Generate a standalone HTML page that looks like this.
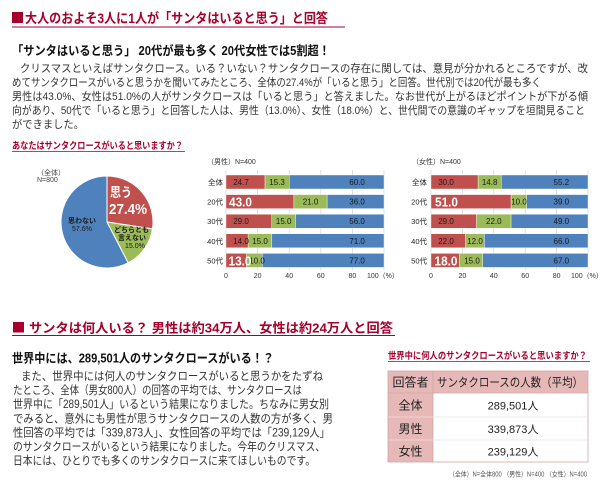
<!DOCTYPE html>
<html><head><meta charset="utf-8"><style>
html,body{margin:0;padding:0;background:#fff;}
svg{display:block;}
text{font-family:"Liberation Sans","Noto Sans CJK JP",sans-serif;}
.b{font-weight:bold;}
.red{fill:#A8002D;}
.body{font-size:11px;fill:#333;}
.body2{font-size:11.5px;fill:#333;}
.sm{font-size:7.5px;fill:#222;}
.bl{font-size:8px;fill:#1a1a1a;}
.big{font-size:13px;fill:#fff;font-weight:bold;}
</style></head><body>
<svg width="600" height="487" viewBox="0 0 600 487" xmlns="http://www.w3.org/2000/svg">
<rect width="600" height="487" fill="#fff"/>
<!-- Header 1 -->
<rect x="12" y="12" width="11" height="11" fill="#A8002D"/>
<text x="25" y="23" class="b red" font-size="13.5" textLength="303" lengthAdjust="spacingAndGlyphs">大人のおよそ3人に1人が「サンタはいると思う」と回答</text>
<line x1="12" y1="27" x2="345" y2="27" stroke="#A8002D" stroke-width="1"/>
<text x="12" y="55" class="b" font-size="12.5" fill="#111" textLength="318" lengthAdjust="spacingAndGlyphs">「サンタはいると思う」 20代が最も多く 20代女性では5割超！</text>
<text x="20" y="72" class="body" textLength="568" lengthAdjust="spacingAndGlyphs">クリスマスといえばサンタクロース。いる？いない？サンタクロースの存在に関しては、意見が分かれるところですが、改</text>
<text x="12" y="86" class="body" textLength="529" lengthAdjust="spacingAndGlyphs">めてサンタクロースがいると思うかを聞いてみたところ、全体の27.4%が「いると思う」と回答。世代別では20代が最も多く</text>
<text x="12" y="100" class="body" textLength="576" lengthAdjust="spacingAndGlyphs">男性は43.0%、女性は51.0%の人がサンタクロースは「いると思う」と答えました。なお世代が上がるほどポイントが下がる傾</text>
<text x="12" y="114" class="body" textLength="573" lengthAdjust="spacingAndGlyphs">向があり、50代で「いると思う」と回答した人は、男性（13.0%）、女性（18.0%）と、世代間での意識のギャップを垣間見ること</text>
<text x="12" y="128" class="body" textLength="72" lengthAdjust="spacingAndGlyphs">ができました。</text>

<!-- Chart title -->
<text x="12" y="149" class="b red" font-size="9.5" textLength="171" lengthAdjust="spacingAndGlyphs">あなたはサンタクロースがいると思いますか？</text>
<line x1="12" y1="151.5" x2="185" y2="151.5" stroke="#A8002D" stroke-width="0.8"/>

<!-- Pie -->
<path d="M107,222 L107,176 A46,46 0 0 1 152.48,228.91 Z" fill="#C0504D" stroke="#fff" stroke-width="1"/>
<path d="M107,222 L152.48,228.91 A46,46 0 0 1 128.15,262.85 Z" fill="#9BBB59" stroke="#fff" stroke-width="1"/>
<path d="M107,222 L128.15,262.85 A46,46 0 1 1 107,176 Z" fill="#4F81BD" stroke="#fff" stroke-width="1"/>
<text x="37" y="175" font-size="7" fill="#444">（全体）</text>
<text x="37" y="182" font-size="7" fill="#444">N=800</text>
<text x="110" y="197" class="b" font-size="13" fill="#fff" textLength="22" lengthAdjust="spacingAndGlyphs">思う</text>
<text x="109" y="214" class="b" font-size="15" fill="#fff" textLength="38" lengthAdjust="spacingAndGlyphs">27.4%</text>
<text x="68" y="223" class="b" font-size="7" fill="#1a1a1a">思わない</text>
<text x="72" y="231" font-size="7" fill="#1a1a1a">57.6%</text>
<text x="114" y="232" class="b" font-size="7" fill="#1a1a1a">どちらとも</text>
<text x="118" y="240" class="b" font-size="7" fill="#1a1a1a">言えない</text>
<text x="125" y="248" font-size="7" fill="#1a1a1a">15.0%</text>

<!-- Male bar chart -->
<text x="207" y="164" font-size="7" fill="#333">（男性）N=400</text>
<g stroke="#D9D9D9" stroke-width="0.8">
<line x1="226" y1="170" x2="226" y2="270"/><line x1="257.6" y1="170" x2="257.6" y2="270"/><line x1="289.2" y1="170" x2="289.2" y2="270"/><line x1="320.8" y1="170" x2="320.8" y2="270"/><line x1="352.4" y1="170" x2="352.4" y2="270"/><line x1="384" y1="170" x2="384" y2="270"/>
</g>
<g stroke="#fff" stroke-width="0.4">
<rect x="226" y="175" width="39.03" height="14" fill="#C0504D"/><rect x="265.03" y="175" width="24.17" height="14" fill="#9BBB59"/><rect x="289.2" y="175" width="94.8" height="14" fill="#4F81BD"/>
<rect x="226" y="194.6" width="67.94" height="14" fill="#C0504D"/><rect x="293.94" y="194.6" width="33.18" height="14" fill="#9BBB59"/><rect x="327.12" y="194.6" width="56.88" height="14" fill="#4F81BD"/>
<rect x="226" y="214.2" width="45.82" height="14" fill="#C0504D"/><rect x="271.82" y="214.2" width="23.7" height="14" fill="#9BBB59"/><rect x="295.52" y="214.2" width="88.48" height="14" fill="#4F81BD"/>
<rect x="226" y="233.8" width="22.12" height="14" fill="#C0504D"/><rect x="248.12" y="233.8" width="23.7" height="14" fill="#9BBB59"/><rect x="271.82" y="233.8" width="112.18" height="14" fill="#4F81BD"/>
<rect x="226" y="253.4" width="20.54" height="14" fill="#C0504D"/><rect x="246.54" y="253.4" width="15.8" height="14" fill="#9BBB59"/><rect x="262.34" y="253.4" width="121.66" height="14" fill="#4F81BD"/>
</g>
<g class="sm" text-anchor="end">
<text x="223" y="185">全体</text><text x="223" y="204.6">20代</text><text x="223" y="224.2">30代</text><text x="223" y="243.8">40代</text><text x="223" y="263.4">50代</text>
</g>
<g class="bl" text-anchor="middle">
<text x="241" y="185">24.7</text><text x="277.1" y="185">15.3</text><text x="357.1" y="185">60.0</text>
<text x="310.5" y="204.6">21.0</text><text x="357.1" y="204.6">36.0</text>
<text x="241" y="224.2">29.0</text><text x="283.7" y="224.2">15.0</text><text x="357.1" y="224.2">56.0</text>
<text x="241" y="243.8">14.0</text><text x="260" y="243.8">15.0</text><text x="357.1" y="243.8">71.0</text>
<text x="257" y="263.4">10.0</text><text x="357.1" y="263.4">77.0</text>
</g>
<text x="229" y="206.5" class="big" textLength="23" lengthAdjust="spacingAndGlyphs">43.0</text>
<text x="228.5" y="265.3" class="big" textLength="23" lengthAdjust="spacingAndGlyphs">13.0</text>
<g font-size="7" fill="#333" text-anchor="middle">
<text x="226" y="278">0</text><text x="257.6" y="278">20</text><text x="289.2" y="278">40</text><text x="320.8" y="278">60</text><text x="352.4" y="278">80</text>
</g>
<text x="367" y="278" font-size="7" fill="#333">100（%）</text>

<!-- Female bar chart -->
<text x="412" y="164" font-size="7" fill="#333">（女性）N=400</text>
<g stroke="#D9D9D9" stroke-width="0.8">
<line x1="431" y1="170" x2="431" y2="270"/><line x1="462.4" y1="170" x2="462.4" y2="270"/><line x1="493.8" y1="170" x2="493.8" y2="270"/><line x1="525.2" y1="170" x2="525.2" y2="270"/><line x1="556.6" y1="170" x2="556.6" y2="270"/><line x1="588" y1="170" x2="588" y2="270"/>
</g>
<g stroke="#fff" stroke-width="0.4">
<rect x="431" y="175" width="47.1" height="14" fill="#C0504D"/><rect x="478.1" y="175" width="23.24" height="14" fill="#9BBB59"/><rect x="501.34" y="175" width="86.66" height="14" fill="#4F81BD"/>
<rect x="431" y="194.6" width="80.07" height="14" fill="#C0504D"/><rect x="511.07" y="194.6" width="15.7" height="14" fill="#9BBB59"/><rect x="526.77" y="194.6" width="61.23" height="14" fill="#4F81BD"/>
<rect x="431" y="214.2" width="45.53" height="14" fill="#C0504D"/><rect x="476.53" y="214.2" width="34.54" height="14" fill="#9BBB59"/><rect x="511.07" y="214.2" width="76.93" height="14" fill="#4F81BD"/>
<rect x="431" y="233.8" width="34.54" height="14" fill="#C0504D"/><rect x="465.54" y="233.8" width="18.84" height="14" fill="#9BBB59"/><rect x="484.38" y="233.8" width="103.62" height="14" fill="#4F81BD"/>
<rect x="431" y="253.4" width="28.26" height="14" fill="#C0504D"/><rect x="459.26" y="253.4" width="23.55" height="14" fill="#9BBB59"/><rect x="482.81" y="253.4" width="105.19" height="14" fill="#4F81BD"/>
</g>
<g class="sm" text-anchor="end">
<text x="427" y="185">全体</text><text x="427" y="204.6">20代</text><text x="427" y="224.2">30代</text><text x="427" y="243.8">40代</text><text x="427" y="263.4">50代</text>
</g>
<g class="bl" text-anchor="middle">
<text x="446" y="185">30.0</text><text x="489.7" y="185">14.8</text><text x="561.3" y="185">55.2</text>
<text x="519" y="204.6">10.0</text><text x="561.3" y="204.6">39.0</text>
<text x="446" y="224.2">29.0</text><text x="493.8" y="224.2">22.0</text><text x="561.3" y="224.2">49.0</text>
<text x="446" y="243.8">22.0</text><text x="475" y="243.8">12.0</text><text x="561.3" y="243.8">66.0</text>
<text x="472" y="263.4">15.0</text><text x="561.3" y="263.4">67.0</text>
</g>
<text x="435" y="206.5" class="big" textLength="23" lengthAdjust="spacingAndGlyphs">51.0</text>
<text x="434.5" y="265.3" class="big" textLength="23" lengthAdjust="spacingAndGlyphs">18.0</text>
<g font-size="7" fill="#333" text-anchor="middle">
<text x="431" y="278">0</text><text x="462.4" y="278">20</text><text x="493.8" y="278">40</text><text x="525.2" y="278">60</text><text x="556.6" y="278">80</text>
</g>
<text x="571" y="278" font-size="7" fill="#333">100（%）</text>

<!-- Header 2 -->
<rect x="13" y="322" width="11" height="10.5" fill="#A8002D"/>
<text x="29" y="332.5" class="b red" font-size="13" textLength="364" lengthAdjust="spacingAndGlyphs">サンタは何人いる？ 男性は約34万人、女性は約24万人と回答</text>
<line x1="12" y1="335.5" x2="395" y2="335.5" stroke="#A8002D" stroke-width="1"/>
<text x="12" y="362.5" class="b" font-size="12.5" fill="#111" textLength="262" lengthAdjust="spacingAndGlyphs">世界中には、289,501人のサンタクロースがいる！？</text>
<text x="21" y="380" class="body2" textLength="302" lengthAdjust="spacingAndGlyphs">また、世界中には何人のサンタクロースがいると思うかをたずね</text>
<text x="13" y="394.1" class="body2" textLength="289" lengthAdjust="spacingAndGlyphs">たところ、全体（男女800人）の回答の平均では、サンタクロースは</text>
<text x="13" y="408.2" class="body2" textLength="316" lengthAdjust="spacingAndGlyphs">世界中に「289,501人」いるという結果になりました。ちなみに男女別</text>
<text x="13" y="422.3" class="body2" textLength="320" lengthAdjust="spacingAndGlyphs">でみると、意外にも男性が思うサンタクロースの人数の方が多く、男</text>
<text x="13" y="436.4" class="body2" textLength="317" lengthAdjust="spacingAndGlyphs">性回答の平均では「339,873人」、女性回答の平均では「239,129人」</text>
<text x="13" y="450.5" class="body2" textLength="312" lengthAdjust="spacingAndGlyphs">のサンタクロースがいるという結果になりました。今年のクリスマス、</text>
<text x="13" y="464.6" class="body2" textLength="302" lengthAdjust="spacingAndGlyphs">日本には、ひとりでも多くのサンタクロースに来てほしいものです。</text>

<!-- Table -->
<text x="388" y="359" class="b red" font-size="9.5" textLength="199" lengthAdjust="spacingAndGlyphs">世界中に何人のサンタクロースがいると思いますか？</text>
<line x1="388" y1="361.5" x2="590" y2="361.5" stroke="#A8002D" stroke-width="0.8"/>
<rect x="388" y="371" width="200" height="22" fill="#E6B9B8"/>
<rect x="388" y="393" width="45" height="69" fill="#E6B9B8"/>
<rect x="433" y="393" width="155" height="69" fill="#fff"/>
<g stroke="#CFA6A6" stroke-width="0.8" fill="none">
<rect x="388" y="371" width="200" height="91"/>
<line x1="433" y1="371" x2="433" y2="462"/>
<line x1="388" y1="393" x2="588" y2="393"/>
</g>
<g stroke="#E0E0E0" stroke-width="0.8">
<line x1="433" y1="417" x2="588" y2="417"/><line x1="433" y1="440" x2="588" y2="440"/>
</g>
<g stroke="#F4DADA" stroke-width="0.8">
<line x1="388" y1="417" x2="433" y2="417"/><line x1="388" y1="440" x2="433" y2="440"/>
</g>
<g font-size="12" fill="#222" text-anchor="middle">
<text x="410.5" y="386.5">回答者</text>
<text x="510" y="386.5" textLength="146" lengthAdjust="spacingAndGlyphs">サンタクロースの人数（平均）</text>
<text x="410.5" y="409.5">全体</text>
<text x="410.5" y="433">男性</text>
<text x="410.5" y="455.5">女性</text>
</g>
<g font-size="11" fill="#222" text-anchor="middle">
<text x="513" y="409.5">289,501人</text>
<text x="513" y="433">339,873人</text>
<text x="513" y="455.5">239,129人</text>
</g>
<text x="587" y="476.5" font-size="7" fill="#555" text-anchor="end" textLength="138" lengthAdjust="spacingAndGlyphs">（全体）N=全体800 （男性）N=400 （女性）N=400</text>
</svg>
</body></html>
